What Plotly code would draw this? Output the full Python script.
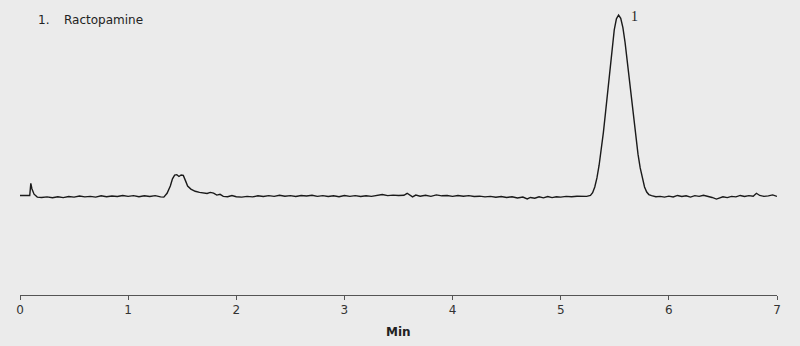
import plotly.graph_objects as go

# Retention time (min) and detector response (arbitrary units, main peak = 100)
time_min = [
    0.00, 0.09, 0.10, 0.11, 0.13, 0.16, 0.20, 0.25, 0.30, 0.35, 0.40, 0.45, 0.50,
    0.55, 0.60, 0.65, 0.70, 0.75, 0.80, 0.85, 0.90, 0.95, 1.00, 1.05, 1.10, 1.15,
    1.20, 1.25, 1.30, 1.33, 1.36, 1.39, 1.41, 1.43, 1.45, 1.47, 1.49, 1.51, 1.53,
    1.55, 1.58, 1.62, 1.66, 1.70, 1.73, 1.76, 1.79, 1.82, 1.85, 1.88, 1.92, 1.96,
    2.00, 2.05, 2.10, 2.15, 2.20, 2.25, 2.30, 2.35, 2.40, 2.45, 2.50, 2.55, 2.60,
    2.65, 2.70, 2.75, 2.80, 2.85, 2.90, 2.95, 3.00, 3.05, 3.10, 3.15, 3.20, 3.25,
    3.30, 3.35, 3.40, 3.45, 3.50, 3.55, 3.58, 3.61, 3.63, 3.66, 3.70, 3.75, 3.80,
    3.85, 3.90, 3.95, 4.00, 4.05, 4.10, 4.15, 4.20, 4.25, 4.30, 4.35, 4.40, 4.45,
    4.50, 4.55, 4.60, 4.65, 4.69, 4.72, 4.76, 4.80, 4.84, 4.88, 4.92, 4.96, 5.00,
    5.05, 5.10, 5.15, 5.20, 5.24, 5.275, 5.295, 5.315, 5.335, 5.355, 5.375, 5.395,
    5.415, 5.435, 5.455, 5.475, 5.495, 5.515, 5.535, 5.555, 5.575, 5.595, 5.615,
    5.635, 5.655, 5.675, 5.695, 5.715, 5.735, 5.755, 5.775, 5.795, 5.815, 5.84,
    5.88, 5.92, 5.96, 6.00, 6.04, 6.08, 6.12, 6.16, 6.20, 6.24, 6.28, 6.32, 6.36,
    6.40, 6.44, 6.47, 6.50, 6.54, 6.58, 6.62, 6.66, 6.70, 6.74, 6.78, 6.81, 6.84,
    6.88, 6.92, 6.96, 7.00,
]
response = [
    0.3, 0.3, 7.0, 4.0, 1.0, -0.6, -0.8, -0.5, -1.0, -0.4, -0.9, -0.3, -0.6,
    0.0, -0.5, -0.2, -0.6, 0.1, -0.4, 0.0, -0.3, 0.3, -0.2, 0.2, -0.4, 0.1,
    -0.3, 0.2, -0.5, -0.6, 1.5, 5.5, 9.5, 11.5, 11.8, 10.8, 11.6, 11.4, 8.5,
    5.5, 3.8, 2.6, 2.0, 1.7, 1.4, 2.0, 1.6, 0.5, 0.9, -0.2, -0.4, 0.3,
    -0.4, -0.6, -0.2, -0.5, 0.1, -0.3, 0.2, -0.2, 0.4, -0.1, 0.2, -0.3, 0.3,
    0.0, 0.4, -0.2, 0.2, -0.3, 0.1, -0.4, 0.3, -0.2, 0.2, -0.3, 0.1, -0.2,
    0.4, 0.8, 0.2, 0.5, 0.3, 0.4, 1.5, 0.2, -0.5, 0.5, -0.1, 0.4, -0.2,
    0.6, 0.1, 0.3, -0.2, 0.3, -0.1, 0.2, -0.3, -0.1, -0.5, -0.2, -0.7, -0.3,
    -0.8, -0.4, -1.1, -0.6, -1.6, -0.8, -1.2, -0.4, -1.0, -0.3, -0.9, -0.4, -0.6,
    -0.2, -0.4, -0.1, -0.3, -0.2, 0.3, 1.8, 5.0, 10.0, 17.0, 25.7, 35.3,
    46.5, 58.8, 71.2, 82.6, 91.8, 97.9, 100.0, 98.2, 93.0, 84.9, 74.8,
    63.5, 52.0, 41.1, 31.3, 23.0, 15.5, 9.5, 5.0, 2.2, 0.8, 0.2,
    -0.4, -0.2, -0.6, -0.1, -0.5, 0.3, -0.3, 0.1, -0.6, 0.2, -0.2, 0.4, 0.0,
    -0.8, -1.7, -1.0, -0.4, -0.9, -0.2, -0.5, 0.3, -0.3, 0.2, -0.1, 1.5, 0.3,
    -0.2, 0.1, 0.6, -0.2,
]
x_ticks = [0, 1, 2, 3, 4, 5, 6, 7]
peak_label = "1"
peak_label_pos = (5.68, 99.0)
legend_num = "1."
legend_name = "Ractopamine"
x_title = "Min"

BG = "#ebebeb"
FONT = "DejaVu Sans"

fig = go.Figure()
fig.add_trace(go.Scatter(
    x=time_min, y=response, mode="lines",
    line=dict(color="#1a1a1a", width=1.4),
    hoverinfo="skip", showlegend=False,
))

fig.add_annotation(x=peak_label_pos[0], y=peak_label_pos[1], text=peak_label,
                   showarrow=False, xanchor="center", yanchor="middle",
                   font=dict(family="Liberation Serif", size=14, color="#222"))
fig.add_annotation(x=0.0211, y=0.932, xref="paper", yref="paper", text=legend_num,
                   showarrow=False, xanchor="left", yanchor="middle",
                   font=dict(family=FONT, size=12, color="#222"))
fig.add_annotation(x=0.0555, y=0.932, xref="paper", yref="paper", text=legend_name,
                   showarrow=False, xanchor="left", yanchor="middle",
                   font=dict(family=FONT, size=12, color="#222"))
fig.add_annotation(x=0.5, y=-0.125, xref="paper", yref="paper", text="<b>" + x_title + "</b>",
                   showarrow=False, xanchor="center", yanchor="middle",
                   font=dict(family=FONT, size=12, color="#222"))

fig.update_layout(
    width=800, height=346,
    margin=dict(l=20, r=23, t=0, b=51),
    paper_bgcolor=BG, plot_bgcolor=BG,
    font=dict(family=FONT, size=12, color="#333"),
    xaxis=dict(
        range=[0, 7], tickvals=x_ticks, ticktext=[str(v) for v in x_ticks],
        showgrid=False, zeroline=False, showline=True, linecolor="#555", linewidth=1,
        ticks="outside", ticklen=4, tickcolor="#555", tickwidth=1,
        tickfont=dict(family=FONT, size=12, color="#333"),
    ),
    yaxis=dict(range=[-54.7, 108.3], visible=False, showgrid=False, zeroline=False),
)

fig.write_html("out.html")
